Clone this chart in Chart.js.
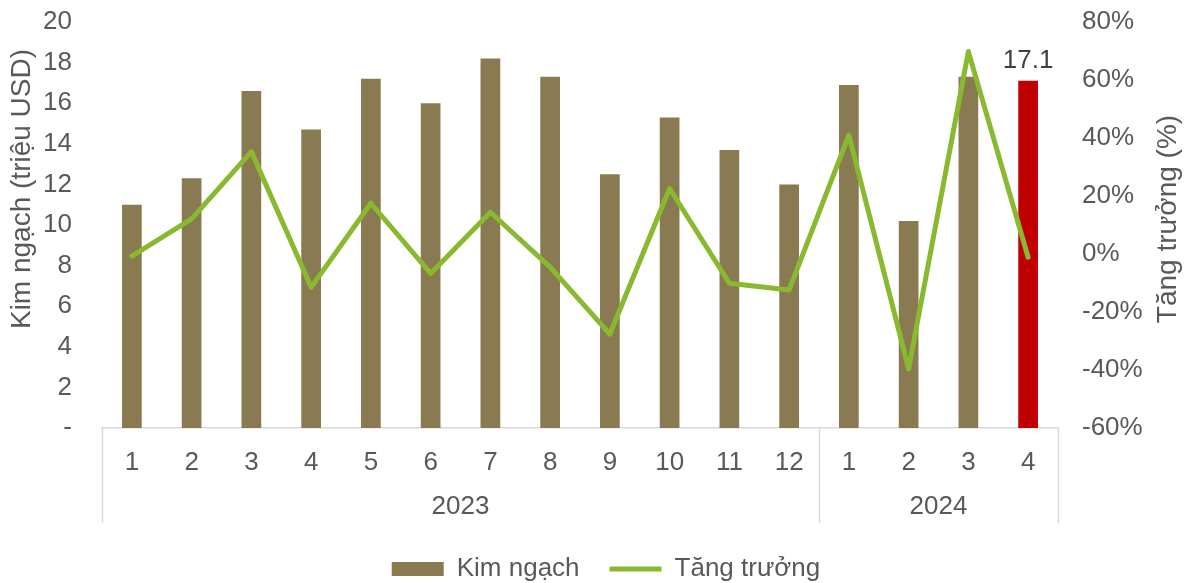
<!DOCTYPE html>
<html>
<head>
<meta charset="utf-8">
<script src="https://cdn.jsdelivr.net/npm/chart.js@4"></script>
<style>
  html, body { margin: 0; padding: 0; background: #ffffff; }
  #wrap { width: 1184px; height: 583px; }
</style>
</head>
<body>
<div id="wrap"><canvas id="c" width="1184" height="583"></canvas></div>
<script>
const months = ['1','2','3','4','5','6','7','8','9','10','11','12','1','2','3','4'];
const yearLabels = ['2023', '2024'];
const yearCounts = [12, 4];
const kimNgach = [11.0, 12.3, 16.6, 14.7, 17.2, 16.0, 18.2, 17.3, 12.5, 15.3, 13.7, 12.0, 16.9, 10.2, 17.3, 17.1];
const tangTruong = [-0.7, 12.1, 35.3, -11.5, 17.5, -6.7, 14.4, -4.5, -27.6, 22.6, -10.1, -12.4, 41.0, -39.6, 69.8, -1.1];
const leftTicks = [0, 2, 4, 6, 8, 10, 12, 14, 16, 18, 20];
const rightTicks = [-60, -40, -20, 0, 20, 40, 60, 80];
const seriesNames = ['Kim ngạch', 'Tăng trưởng'];
const axisTitles = ['Kim ngạch (triệu USD)', 'Tăng trưởng (%)'];
const labelIndex = 15;

const BROWN = '#8A7A51';
const RED = '#C00000';
const GREEN = '#88B92F';
const TEXT = '#595959';
const FONT = "'Liberation Sans', Arial, sans-serif";

Chart.defaults.font.family = FONT;
Chart.defaults.font.size = 26;
Chart.defaults.color = TEXT;

const barColors = kimNgach.map((v, i) => i === labelIndex ? RED : BROWN);

const overlay = {
  id: 'overlay',
  afterLayout(chart) {
    const lg = chart.legend;
    if (lg) { lg.left += 14; lg.right += 14; }
  },
  afterDatasetsDraw(chart) {
    const ctx = chart.ctx;
    const meta = chart.getDatasetMeta(0);
    const bar = meta.data[labelIndex];
    ctx.save();
    ctx.fillStyle = '#404040';
    ctx.font = '26px ' + FONT;
    ctx.textAlign = 'center';
    ctx.textBaseline = 'middle';
    ctx.fillText(kimNgach[labelIndex].toFixed(1), bar.x, bar.y - 20);
    ctx.restore();
  },
  afterDraw(chart) {
    const ctx = chart.ctx;
    const x = chart.scales.x;
    const area = chart.chartArea;
    const bottom = area.bottom + 95;
    ctx.save();
    ctx.strokeStyle = '#D9D9D9';
    ctx.lineWidth = 1.5;
    let start = 0;
    const step = x.getPixelForValue(1) - x.getPixelForValue(0);
    const edges = [x.left];
    yearCounts.forEach(c => { start += c; edges.push(x.getPixelForValue(start - 1) + step / 2); });
    edges.forEach(px => {
      ctx.beginPath();
      ctx.moveTo(Math.round(px) + 0.5, area.bottom);
      ctx.lineTo(Math.round(px) + 0.5, bottom);
      ctx.stroke();
    });
    ctx.fillStyle = TEXT;
    ctx.font = '26px ' + FONT;
    ctx.textAlign = 'center';
    ctx.textBaseline = 'middle';
    yearLabels.forEach((lab, i) => {
      ctx.fillText(lab, (edges[i] + edges[i + 1]) / 2, area.bottom + 79);
    });
    ctx.font = '28px ' + FONT;
    ctx.save();
    ctx.translate(22, 189);
    ctx.rotate(-Math.PI / 2);
    ctx.fillText(axisTitles[0], 0, 0);
    ctx.restore();
    ctx.save();
    ctx.translate(1168, 219);
    ctx.rotate(-Math.PI / 2);
    ctx.fillText(axisTitles[1], 0, 0);
    ctx.restore();
    ctx.restore();
  }
};

new Chart(document.getElementById('c'), {
  data: {
    labels: months,
    datasets: [
      {
        type: 'bar',
        label: seriesNames[0],
        data: kimNgach,
        backgroundColor: barColors,
        borderWidth: 0,
        barPercentage: 0.33,
        categoryPercentage: 1.0,
        yAxisID: 'y',
        order: 2,
        pointStyle: 'rect'
      },
      {
        type: 'line',
        label: seriesNames[1],
        data: tangTruong,
        borderColor: GREEN,
        backgroundColor: GREEN,
        borderWidth: 5,
        borderJoinStyle: 'round',
        borderCapStyle: 'round',
        pointRadius: 0,
        pointHoverRadius: 0,
        tension: 0,
        yAxisID: 'y1',
        order: 1,
        pointStyle: 'line'
      }
    ]
  },
  options: {
    responsive: false,
    animation: false,
    events: [],
    layout: { padding: { top: 22, left: 0, right: 0, bottom: 0 } },
    plugins: {
      tooltip: { enabled: false },
      legend: {
        position: 'bottom',
        maxHeight: 57,
        labels: {
          usePointStyle: true,
          pointStyleWidth: 52,
          boxHeight: 14,
          padding: 30,
          color: TEXT,
          font: { size: 26, family: FONT },
          sort: (a, b) => a.datasetIndex - b.datasetIndex
        }
      }
    },
    scales: {
      x: {
        type: 'category',
        offset: true,
        grid: { display: false, drawTicks: false },
        border: { display: true, color: '#D9D9D9', width: 1.5 },
        ticks: { padding: 19, color: TEXT, font: { size: 26 }, maxRotation: 0, autoSkip: false },
        afterFit: s => { s.height = 98; }
      },
      y: {
        position: 'left',
        min: 0,
        max: 20,
        afterBuildTicks: s => { s.ticks = leftTicks.map(v => ({ value: v })); },
        grid: { display: false, drawTicks: false },
        border: { display: false },
        ticks: {
          padding: 30,
          color: TEXT,
          font: { size: 26 },
          callback: v => v === 0 ? '-' : String(v)
        },
        afterFit: s => { s.width = 102; s.paddingTop = 15; s.paddingBottom = 15; }
      },
      y1: {
        position: 'right',
        min: -60,
        max: 80,
        afterBuildTicks: s => { s.ticks = rightTicks.map(v => ({ value: v })); },
        grid: { display: false, drawTicks: false },
        border: { display: false },
        ticks: {
          padding: 24,
          color: TEXT,
          font: { size: 26 },
          callback: v => v + '%'
        },
        afterFit: s => { s.width = 126; s.paddingTop = 15; s.paddingBottom = 15; }
      }
    }
  },
  plugins: [overlay]
});
</script>
</body>
</html>
